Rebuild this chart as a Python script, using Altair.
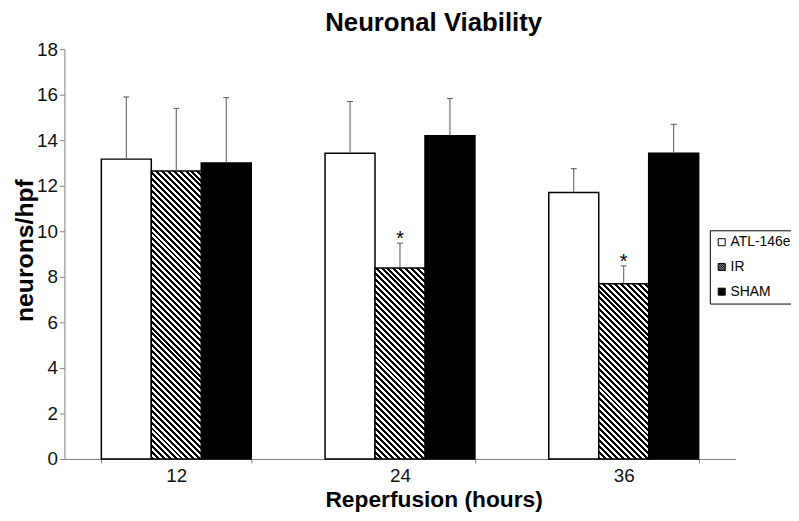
import altair as alt
import pandas as pd

hours = ["12", "24", "36"]
groups = ["ATL-146e", "IR", "SHAM"]
atl_mean = [13.17, 13.43, 11.70]
ir_mean = [12.65, 8.39, 7.70]
sham_mean = [13.00, 14.20, 13.43]
atl_upper = [15.90, 15.70, 12.75]
ir_upper = [15.40, 9.48, 8.48]
sham_upper = [15.87, 15.83, 14.70]
ir_star = ["", "*", "*"]

W, H = 678, 414
YMAX = 18
BAR_W = W / 3 * 0.67 / 3
PERIOD = 6.0

rows = []
for i, h in enumerate(hours):
    rows.append({"hours": h, "group": "ATL-146e", "mean": atl_mean[i], "upper": atl_upper[i], "star": ""})
    rows.append({"hours": h, "group": "IR", "mean": ir_mean[i], "upper": ir_upper[i], "star": ir_star[i]})
    rows.append({"hours": h, "group": "SHAM", "mean": sham_mean[i], "upper": sham_upper[i], "star": ""})
df = pd.DataFrame(rows)

x_enc = alt.X("hours:N", sort=hours, scale=alt.Scale(paddingInner=0.33, paddingOuter=0.165),
              axis=alt.Axis(title="Reperfusion (hours)", labelAngle=0, tickBand="extent", tickSize=4,
                            labelFontSize=19, labelPadding=4, labelColor="#111",
                            titleFontSize=23, titleFontWeight="bold", titleX=373, titleY=48,
                            titleBaseline="alphabetic", titleAlign="center",
                            domainColor="#808080", tickColor="#808080"))
xo_enc = alt.XOffset("group:N", sort=groups, scale=alt.Scale(domain=groups, paddingInner=0, paddingOuter=0))
y_enc = alt.Y("mean:Q", scale=alt.Scale(domain=[0, YMAX], nice=False),
              axis=alt.Axis(values=list(range(0, 19, 2)), tickSize=5, labelFontSize=19, labelPadding=2,
                            labelColor="#111", grid=False, title="neurons/hpf", titleFontSize=25,
                            titleFontWeight="bold", titleX=-32, titleY=203, titleAngle=270,
                            titleBaseline="alphabetic", titleAlign="center",
                            domainColor="#808080", tickColor="#808080"))

IR_PATH = ("M-1,-1H1V1H-1Z M-1,-1L1,1 M-1,-0.33L0.33,1 M-1,0.33L-0.33,1 "
           "M-0.33,-1L1,0.33 M0.33,-1L1,-0.33")

legend_def = alt.Legend(title=None, orient="none", legendX=652, legendY=183,
                        strokeColor="black", padding=5, labelFontSize=14,
                        labelColor="black", symbolSize=50, symbolStrokeWidth=1,
                        symbolOpacity=1, rowPadding=11, labelOffset=2)
bar_fill = alt.Fill("group:N", scale=alt.Scale(domain=groups, range=["white", "#777", "black"]),
                    legend=None)
leg_color = alt.Color("group:N", scale=alt.Scale(domain=groups, range=["white", "#888", "black"]),
                      legend=legend_def)
leg_shape = alt.Shape("group:N", scale=alt.Scale(domain=groups, range=["square", IR_PATH, "square"]),
                      legend=legend_def)
leg_stroke = alt.Stroke("group:N", scale=alt.Scale(domain=groups, range=["black", "black", "black"]),
                        legend=legend_def)

base = alt.Chart(df)

# points hidden under the bars; they only carry the legend symbols
legend_pts = base.transform_calculate(mean="datum.mean / 2").mark_point(
    filled=True, strokeWidth=1, opacity=1, size=20).encode(
    x=x_enc, xOffset=xo_enc, y=y_enc, color=leg_color, shape=leg_shape, stroke=leg_stroke)

bars = base.transform_filter(alt.datum.group != "IR").mark_bar(
    stroke="black", strokeWidth=1.5).encode(x=x_enc, xOffset=xo_enc, y=y_enc, fill=bar_fill)


def hatch(value):
    w = BAR_W
    h = value * H / YMAX
    s = (w + h) / (w * w + h * h)
    n = (w + h) / PERIOD
    stops = []
    k = 0
    while k < n:
        a = k / n
        b = min((k + 0.5) / n, 1.0)
        c = min((k + 1) / n, 1.0)
        stops += [alt.GradientStop(offset=a, color="black"), alt.GradientStop(offset=b, color="black"),
                  alt.GradientStop(offset=b, color="white"), alt.GradientStop(offset=c, color="white")]
        k += 1
    return alt.LinearGradient(gradient="linear", stops=stops, x1=0, y1=1, x2=s * w, y2=1 - s * h)


ir_layers = []
for i, h in enumerate(hours):
    ir_layers.append(
        base.transform_filter((alt.datum.group == "IR") & (alt.datum.hours == h))
        .mark_bar(stroke="black", strokeWidth=1.5, fill=hatch(ir_mean[i]))
        .encode(x=x_enc, xOffset=xo_enc, y=y_enc)
    )

err_rule = base.mark_rule(color="#555", strokeWidth=1).encode(
    x=x_enc, xOffset=xo_enc, y=y_enc, y2="upper:Q")
err_cap = base.mark_tick(color="#555", thickness=1, size=6, opacity=1).encode(
    x=x_enc, xOffset=xo_enc, y="upper:Q")
stars = base.mark_text(fontSize=20, baseline="alphabetic", dy=2, color="black").encode(
    x=x_enc, xOffset=xo_enc, y="upper:Q", text="star:N")

chart = alt.layer(legend_pts, bars, *ir_layers, err_rule, err_cap, stars).properties(
    width=W, height=H,
    title=alt.TitleParams("Neuronal Viability", fontSize=26, fontWeight="bold", dx=34, color="black"),
    autosize=alt.AutoSizeParams(type="none"),
    padding={"left": 57, "top": 39, "right": 56, "bottom": 52},
).configure(font="Liberation Sans").configure_view(stroke=None)

chart.save("out.html", embed_options={"renderer": "svg", "actions": False})
